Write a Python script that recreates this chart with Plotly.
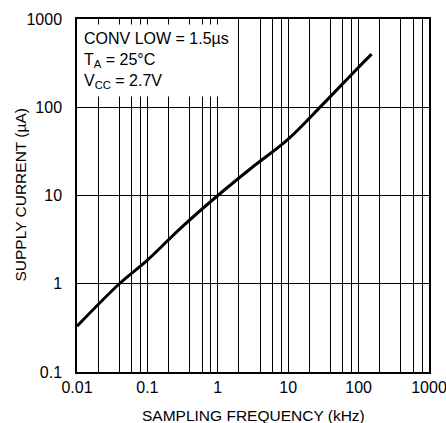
import plotly.graph_objects as go

# Data
freq_khz = [0.01, 0.04, 0.1, 0.3, 1, 3, 10, 30, 94, 153]
supply_ua = [0.33, 1.0, 1.85, 4.3, 10, 20.5, 43.5, 105, 270, 400]

x_major = [0.01, 0.1, 1, 10, 100, 1000]
x_major_labels = ["0.01", "0.1", "1", "10", "100", "1000"]
y_major = [0.1, 1, 10, 100, 1000]
y_major_labels = ["0.1", "1", "10", "100", "1000"]
minor_mults = [2, 4, 6, 8]

x_minor = [d * m for d in x_major[:-1] for m in minor_mults]

FONT = "Liberation Sans, Arial, sans-serif"

fig = go.Figure()
fig.add_trace(go.Scatter(
    x=freq_khz, y=supply_ua, mode="lines",
    line=dict(color="black", width=3, shape="spline", smoothing=1.0),
    showlegend=False, hoverinfo="skip",
))

fig.update_layout(
    width=446, height=423,
    margin=dict(l=77, r=17, t=19, b=51),
    paper_bgcolor="white", plot_bgcolor="white",
    font=dict(family=FONT, size=16, color="black"),
)

fig.update_xaxes(
    type="log", range=[-2, 3],
    tickmode="array", tickvals=x_major, ticktext=x_major_labels,
    showgrid=True, gridcolor="black", gridwidth=1,
    ticks="", ticklabelstandoff=0, ticklabeloverflow="allow",
    showline=True, linecolor="black", linewidth=1.5, mirror=True,
    zeroline=False,
    minor=dict(tickmode="array", tickvals=x_minor, showgrid=True,
               gridcolor="black", gridwidth=1, ticks=""),
    automargin=False,
)
fig.update_yaxes(
    type="log", range=[-1, 3],
    tickmode="array", tickvals=y_major, ticktext=y_major_labels,
    showgrid=True, gridcolor="black", gridwidth=1,
    ticks="", ticklabelstandoff=10, ticklabeloverflow="allow",
    showline=True, linecolor="black", linewidth=1.5, mirror=True,
    zeroline=False,
    automargin=False,
)

# axis titles as annotations for exact placement
fig.add_annotation(
    xref="paper", yref="paper", x=0.5, y=0, xanchor="center", yanchor="middle",
    yshift=-43,
    text="SAMPLING FREQUENCY (kHz)", showarrow=False,
    font=dict(size=15.5, family=FONT, color="black"),
)
fig.add_annotation(
    xref="paper", yref="paper", x=0, y=0.5, xanchor="center", yanchor="middle",
    xshift=-57, textangle=-90,
    text="SUPPLY CURRENT (µA)", showarrow=False,
    font=dict(size=15.5, family=FONT, color="black"),
)

fig.add_annotation(
    xref="paper", yref="paper", x=0, y=1, xanchor="left", yanchor="top",
    xshift=1, yshift=-5,
    text="CONV LOW = 1.5µs<br>T<sub>A</sub> = 25°C<br>V<sub>CC</sub> = 2.7V",
    showarrow=False, align="left", bgcolor="white", borderpad=5,
    font=dict(size=16, family=FONT, color="black"),
)

fig.write_html(
    "out.html",
    config={"displayModeBar": False},
    post_script="document.body.style.margin='0';document.body.style.overflow='hidden';",
)
